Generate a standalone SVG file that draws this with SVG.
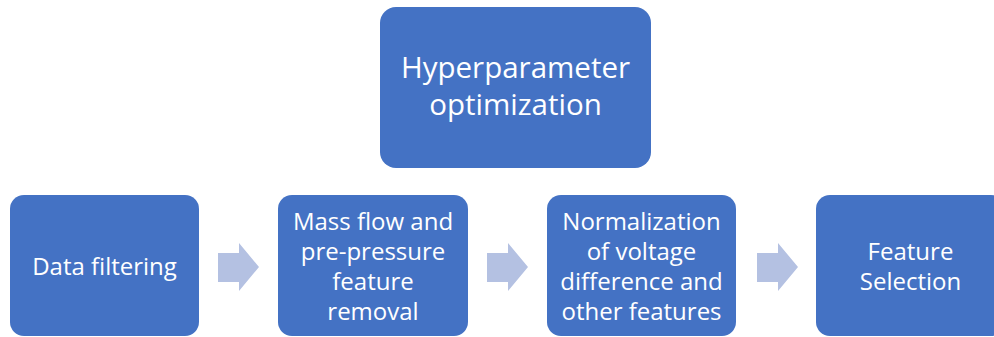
<svg xmlns="http://www.w3.org/2000/svg" width="994" height="337" viewBox="0 0 994 337">
  <style>
    .box { fill: #4472C4; }
    .arrow { fill: #B4C1E2; }
    text { font-family: "Open Sans", "Noto Sans", "Liberation Sans", sans-serif; fill: #FFFFFF; text-anchor: middle; }
    .big { font-size: 29.5px; }
    .small { font-size: 24px; }
  </style>
  <rect width="994" height="337" fill="#FFFFFF"/>
  <g id="hyperparameter-optimization">
    <rect class="box" x="380" y="7" width="271" height="161" rx="16"/>
    <text class="big" x="515.5" y="78">Hyperparameter</text>
    <text class="big" x="515.5" y="115">optimization</text>
  </g>
  <g id="data-filtering">
    <rect class="box" x="10" y="195" width="189" height="141" rx="14"/>
    <text class="small" x="104.5" y="275">Data filtering</text>
  </g>
  <g id="feature-removal">
    <rect class="box" x="278" y="195" width="190" height="141" rx="14"/>
    <text class="small" x="373" y="230">Mass flow and</text>
    <text class="small" x="373" y="260">pre-pressure</text>
    <text class="small" x="373" y="290">feature</text>
    <text class="small" x="373" y="320">removal</text>
  </g>
  <g id="normalization">
    <rect class="box" x="547" y="195" width="189" height="141" rx="14"/>
    <text class="small" x="641.5" y="230">Normalization</text>
    <text class="small" x="641.5" y="260">of voltage</text>
    <text class="small" x="641.5" y="290">difference and</text>
    <text class="small" x="641.5" y="320">other features</text>
  </g>
  <g id="feature-selection">
    <rect class="box" x="816" y="195" width="189" height="141" rx="14"/>
    <text class="small" x="910.5" y="260">Feature</text>
    <text class="small" x="910.5" y="290">Selection</text>
  </g>
  <g id="connectors">
    <polygon class="arrow" points="218,253 239,253 239,243 259,267 239,291 239,282 218,282"/>
    <polygon class="arrow" points="487,253 508,253 508,243 528,267 508,291 508,282 487,282"/>
    <polygon class="arrow" points="757,253 778,253 778,243 798,267 778,291 778,282 757,282"/>
  </g>
</svg>
